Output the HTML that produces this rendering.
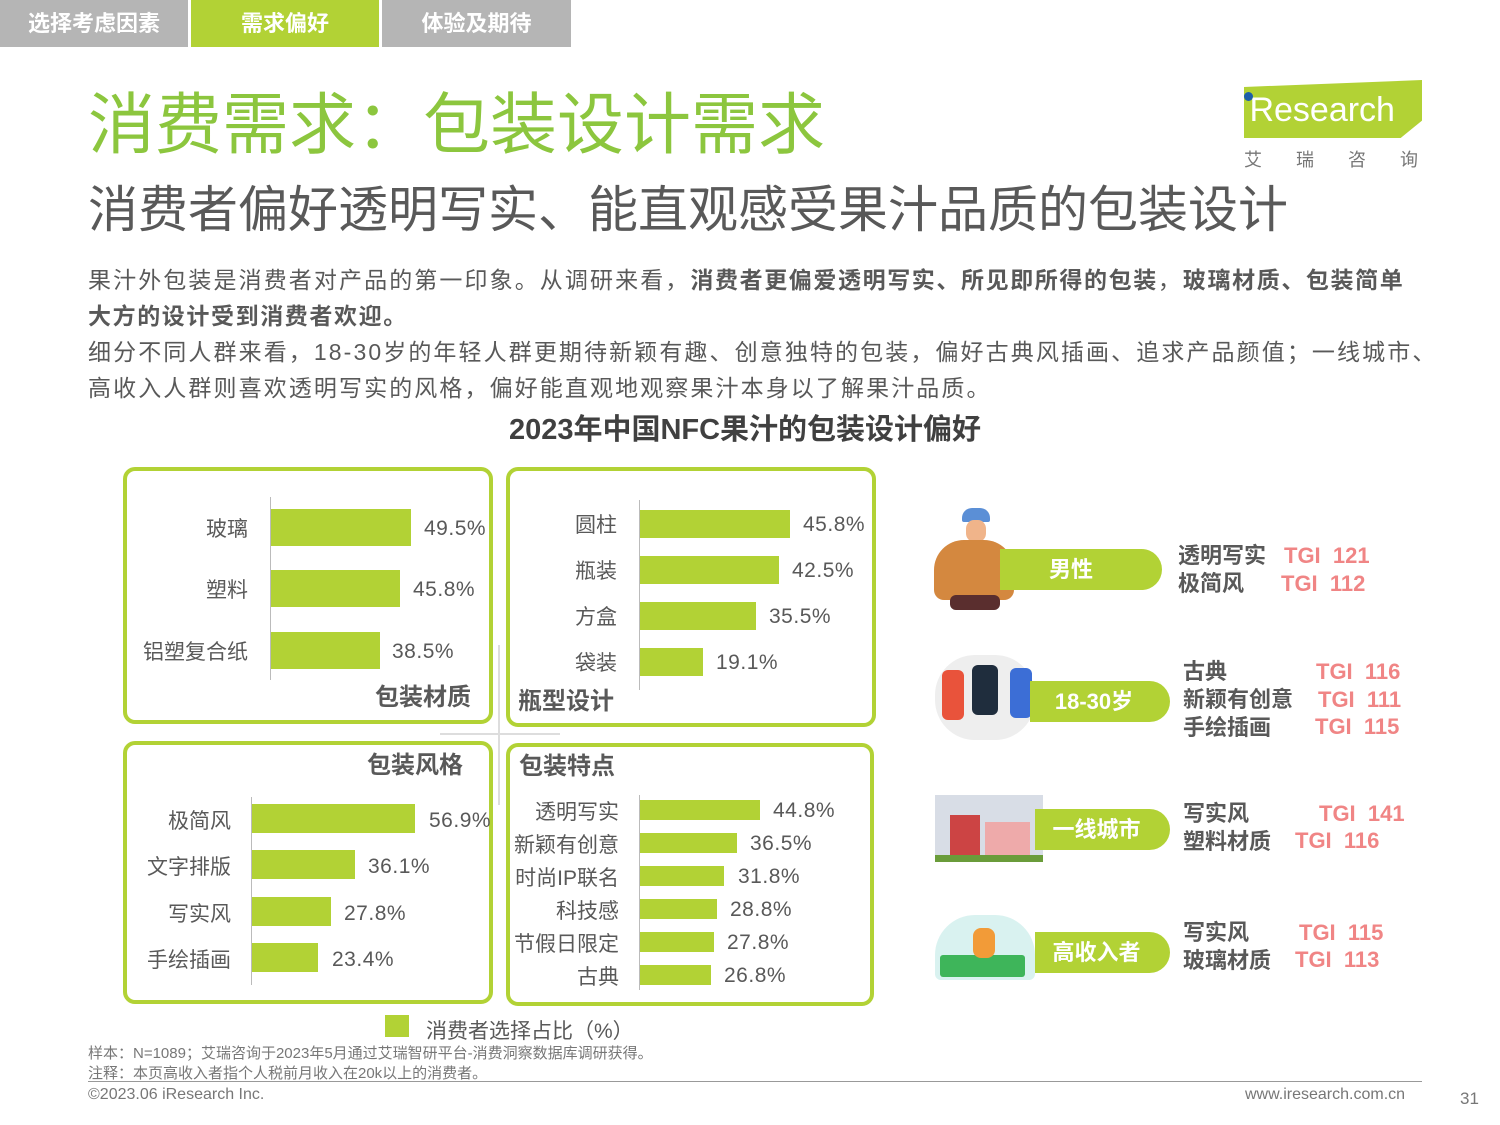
<!DOCTYPE html><html><head><meta charset="utf-8"><style>
*{margin:0;padding:0;box-sizing:border-box}
body{width:1500px;height:1125px;position:relative;background:#fff;font-family:"Liberation Sans","Noto Sans CJK SC",sans-serif;color:#595959;overflow:hidden}
.a{position:absolute;white-space:nowrap}
.tab{position:absolute;top:0;height:47px;color:#fff;font-weight:bold;font-size:22px;text-align:center;line-height:47px}
.box{position:absolute;border:4px solid #b2d235;border-radius:12px}
.bar{position:absolute;background:#b2d235}
.ax{position:absolute;width:1px;background:#bbb}
.lb{position:absolute;font-size:21px;text-align:right;white-space:nowrap}
.v{position:absolute;font-size:21px;white-space:nowrap;letter-spacing:0.5px}
.pill{position:absolute;background:#b2d235;color:#fff;font-weight:bold;font-size:22px;border-radius:0 22px 22px 0;text-align:center}
.t{position:absolute;font-size:22px;font-weight:bold;white-space:nowrap;line-height:28px}
.p{color:#f08585}
</style></head><body>
<div class="tab" style="left:0;width:188px;background:#b5b5b5">选择考虑因素</div>
<div class="tab" style="left:191px;width:188px;background:#b2d235">需求偏好</div>
<div class="tab" style="left:382px;width:189px;background:#b5b5b5">体验及期待</div>

<div class="a" style="left:88px;top:86px;font-size:67px;color:#8cc63e;line-height:80px">消费需求：包装设计需求</div>
<div class="a" style="left:88px;top:180px;font-size:50px;color:#595959;line-height:60px">消费者偏好透明写实、能直观感受果汁品质的包装设计</div>

<div class="a" style="left:1244px;top:80px;width:178px;height:58px;background:#b2d235;clip-path:polygon(0 12%,100% 0,100% 70%,88% 100%,0 100%)"></div>
<div class="a" style="left:1240px;top:88px;font-size:34px;color:#fff;line-height:44px">&nbsp;Research</div>
<div class="a" style="left:1244px;top:92px;width:9px;height:9px;border-radius:50%;background:#1d5fa8"></div>
<div class="a" style="left:1244px;top:146px;font-size:18px;letter-spacing:34px;color:#777">艾瑞咨询</div>

<div class="a" style="left:88px;top:262px;font-size:23px;line-height:36px;letter-spacing:2.1px">果汁外包装是消费者对产品的第一印象。从调研来看，<b style="letter-spacing:1.6px">消费者更偏爱透明写实、所见即所得的包装</b>，<b style="letter-spacing:1.6px">玻璃材质、包装简单</b><br><b style="letter-spacing:1.6px">大方的设计受到消费者欢迎。</b><br>细分不同人群来看，18-30岁的年轻人群更期待新颖有趣、创意独特的包装，偏好古典风插画、追求产品颜值；一线城市、<br>高收入人群则喜欢透明写实的风格，偏好能直观地观察果汁本身以了解果汁品质。</div>
<div class="a" style="left:0;width:1500px;text-align:center;top:406px;font-size:29px;font-weight:bold;color:#404040;padding-right:10px">2023年中国NFC果汁的包装设计偏好</div>

<div class="a" style="left:498px;top:645px;width:2px;height:160px;background:#ddd"></div>
<div class="a" style="left:440px;top:733px;width:120px;height:2px;background:#ddd"></div>

<div class="box" style="left:123px;top:467px;width:370px;height:257px"></div>
<div class="box" style="left:506px;top:467px;width:370px;height:260px"></div>
<div class="box" style="left:123px;top:741px;width:370px;height:263px"></div>
<div class="box" style="left:506px;top:743px;width:368px;height:263px"></div>

<!-- box1 -->
<div class="ax" style="left:270px;top:497px;height:183px"></div>
<div class="bar" style="left:271px;top:509px;width:140px;height:37px"></div>
<div class="bar" style="left:271px;top:570px;width:129px;height:37px"></div>
<div class="bar" style="left:271px;top:632px;width:109px;height:37px"></div>
<div class="lb" style="right:1252px;top:513px">玻璃</div><div class="v" style="left:424px;top:517px">49.5%</div>
<div class="lb" style="right:1252px;top:574px">塑料</div><div class="v" style="left:413px;top:578px">45.8%</div>
<div class="lb" style="right:1252px;top:636px">铝塑复合纸</div><div class="v" style="left:392px;top:640px">38.5%</div>
<div class="t" style="left:375px;top:684px;font-size:24px">包装材质</div>
<!-- box2 -->
<div class="ax" style="left:639px;top:500px;height:190px"></div>
<div class="bar" style="left:640px;top:510px;width:150px;height:28px"></div>
<div class="bar" style="left:640px;top:556px;width:139px;height:28px"></div>
<div class="bar" style="left:640px;top:602px;width:116px;height:28px"></div>
<div class="bar" style="left:640px;top:648px;width:63px;height:28px"></div>
<div class="lb" style="right:883px;top:509px">圆柱</div><div class="v" style="left:803px;top:513px">45.8%</div>
<div class="lb" style="right:883px;top:555px">瓶装</div><div class="v" style="left:792px;top:559px">42.5%</div>
<div class="lb" style="right:883px;top:601px">方盒</div><div class="v" style="left:769px;top:605px">35.5%</div>
<div class="lb" style="right:883px;top:647px">袋装</div><div class="v" style="left:716px;top:651px">19.1%</div>
<div class="t" style="left:518px;top:688px;font-size:24px">瓶型设计</div>
<!-- box3 -->
<div class="t" style="left:367px;top:752px;font-size:24px">包装风格</div>
<div class="ax" style="left:251px;top:797px;height:188px"></div>
<div class="bar" style="left:252px;top:804px;width:163px;height:29px"></div>
<div class="bar" style="left:252px;top:850px;width:103px;height:29px"></div>
<div class="bar" style="left:252px;top:897px;width:79px;height:29px"></div>
<div class="bar" style="left:252px;top:943px;width:66px;height:29px"></div>
<div class="lb" style="right:1269px;top:805px">极简风</div><div class="v" style="left:429px;top:809px">56.9%</div>
<div class="lb" style="right:1269px;top:851px">文字排版</div><div class="v" style="left:368px;top:855px">36.1%</div>
<div class="lb" style="right:1269px;top:898px">写实风</div><div class="v" style="left:344px;top:902px">27.8%</div>
<div class="lb" style="right:1269px;top:944px">手绘插画</div><div class="v" style="left:332px;top:948px">23.4%</div>
<!-- box4 -->
<div class="t" style="left:519px;top:753px;font-size:24px">包装特点</div>
<div class="ax" style="left:639px;top:795px;height:195px"></div>
<div class="bar" style="left:640px;top:800px;width:120px;height:20px"></div>
<div class="bar" style="left:640px;top:833px;width:97px;height:20px"></div>
<div class="bar" style="left:640px;top:866px;width:84px;height:20px"></div>
<div class="bar" style="left:640px;top:899px;width:77px;height:20px"></div>
<div class="bar" style="left:640px;top:932px;width:74px;height:20px"></div>
<div class="bar" style="left:640px;top:965px;width:71px;height:20px"></div>
<div class="lb" style="right:881px;top:796px">透明写实</div><div class="v" style="left:773px;top:799px">44.8%</div>
<div class="lb" style="right:881px;top:829px">新颖有创意</div><div class="v" style="left:750px;top:832px">36.5%</div>
<div class="lb" style="right:881px;top:862px">时尚IP联名</div><div class="v" style="left:738px;top:865px">31.8%</div>
<div class="lb" style="right:881px;top:895px">科技感</div><div class="v" style="left:730px;top:898px">28.8%</div>
<div class="lb" style="right:881px;top:928px">节假日限定</div><div class="v" style="left:727px;top:931px">27.8%</div>
<div class="lb" style="right:881px;top:961px">古典</div><div class="v" style="left:724px;top:964px">26.8%</div>

<div class="a" style="left:385px;top:1015px;width:24px;height:22px;background:#b2d235"></div>
<div class="a" style="left:426px;top:1015px;font-size:21px">消费者选择占比（%）</div>

<div class="a" style="left:962px;top:508px;width:28px;height:14px;background:#5b8fd6;border-radius:10px 10px 2px 2px"></div>
<div class="a" style="left:966px;top:520px;width:20px;height:22px;background:#f0b48a;border-radius:40%"></div>
<div class="a" style="left:934px;top:540px;width:80px;height:60px;background:#d4883f;border-radius:30px 30px 10px 10px"></div>
<div class="a" style="left:950px;top:595px;width:50px;height:15px;background:#5a2e2e;border-radius:6px"></div>
<div class="pill" style="left:1000px;top:549px;width:162px;height:41px;line-height:41px;padding-right:20px">男性</div>

<div class="a" style="left:935px;top:655px;width:100px;height:85px;background:#eee;border-radius:40px"></div>
<div class="a" style="left:942px;top:670px;width:22px;height:50px;background:#e9533b;border-radius:6px"></div>
<div class="a" style="left:972px;top:665px;width:26px;height:50px;background:#1f2d3d;border-radius:6px"></div>
<div class="a" style="left:1010px;top:668px;width:22px;height:50px;background:#3c6ed6;border-radius:6px"></div>
<div class="pill" style="left:1030px;top:681px;width:140px;height:41px;line-height:41px;padding-right:12px">18-30岁</div>

<div class="a" style="left:935px;top:795px;width:108px;height:67px;background:#d8dde6"></div>
<div class="a" style="left:950px;top:815px;width:30px;height:45px;background:#c44"></div>
<div class="a" style="left:985px;top:822px;width:45px;height:38px;background:#eaa"></div>
<div class="a" style="left:935px;top:855px;width:108px;height:7px;background:#6a9c3a"></div>
<div class="pill" style="left:1035px;top:809px;width:135px;height:41px;line-height:41px;padding-right:12px">一线城市</div>

<div class="a" style="left:935px;top:915px;width:100px;height:65px;background:#d9f2f0;border-radius:40px 40px 6px 6px"></div>
<div class="a" style="left:940px;top:955px;width:85px;height:22px;background:#3eb55a;border-radius:3px"></div>
<div class="a" style="left:973px;top:928px;width:22px;height:30px;background:#f29b38;border-radius:8px"></div>
<div class="pill" style="left:1035px;top:932px;width:135px;height:41px;line-height:41px;padding-right:12px">高收入者</div>

<div class="t" style="left:1178px;top:542px">透明写实<br>极简风</div>
<div class="t p" style="left:1284px;top:542px">TGI&nbsp;&nbsp;121</div>
<div class="t p" style="left:1281px;top:570px">TGI&nbsp;&nbsp;112</div>

<div class="t" style="left:1183px;top:658px">古典<br>新颖有创意<br>手绘插画</div>
<div class="t p" style="left:1316px;top:658px">TGI&nbsp;&nbsp;116</div>
<div class="t p" style="left:1318px;top:686px">TGI&nbsp;&nbsp;111</div>
<div class="t p" style="left:1315px;top:713px">TGI&nbsp;&nbsp;115</div>

<div class="t" style="left:1183px;top:800px">写实风<br>塑料材质</div>
<div class="t p" style="left:1319px;top:800px">TGI&nbsp;&nbsp;141</div>
<div class="t p" style="left:1295px;top:827px">TGI&nbsp;&nbsp;116</div>

<div class="t" style="left:1183px;top:919px">写实风<br>玻璃材质</div>
<div class="t p" style="left:1299px;top:919px">TGI&nbsp;&nbsp;115</div>
<div class="t p" style="left:1295px;top:946px">TGI&nbsp;&nbsp;113</div>

<div class="a" style="left:88px;top:1042px;font-size:15px;color:#777">样本：N=1089；艾瑞咨询于2023年5月通过艾瑞智研平台-消费洞察数据库调研获得。</div>
<div class="a" style="left:88px;top:1062px;font-size:15px;color:#777">注释：本页高收入者指个人税前月收入在20k以上的消费者。</div>
<div class="a" style="left:88px;top:1081px;width:1334px;height:1px;background:#999"></div>
<div class="a" style="left:88px;top:1086px;font-size:16px;color:#777">©2023.06 iResearch Inc.</div>
<div class="a" style="left:1245px;top:1086px;font-size:16px;color:#777">www.iresearch.com.cn</div>
<div class="a" style="left:1460px;top:1089px;font-size:17px;color:#777">31</div>
</body></html>
